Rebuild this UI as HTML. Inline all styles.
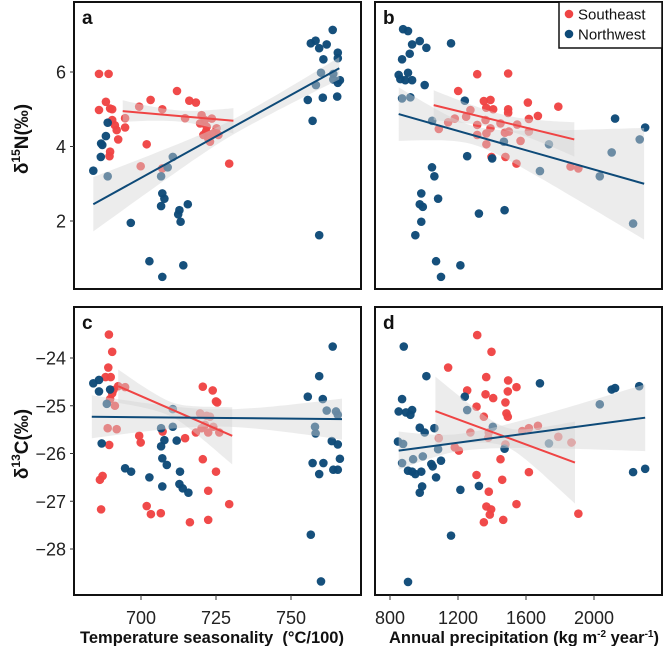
<!DOCTYPE html>
<html><head><meta charset="utf-8"><style>
html,body{margin:0;padding:0;background:#fff;}
svg{display:block;font-family:"Liberation Sans",Arial,sans-serif;}
</style></head><body>
<svg id="fig" width="664" height="646" viewBox="0 0 664 646" xmlns="http://www.w3.org/2000/svg"></svg>
<script>
// ---- data ----
const tempTicks = [700, 725, 750];
const precipTicks = [800, 1200, 1600, 2000];
const nTicks = [2, 4, 6];
const cTicks = [-28, -27, -26, -25, -24];

const aRedX = [686,689.2,686,688.3,689.7,690.4,690.4,691.3,691.9,692.4,689.7,689.5,694.7,694.7,699.4,703.2,701.9,699.9,707.1,707.1,712,714.7,716.1,718.3,720.2,721.3,721.9,723.6,724.1,720.8,722.4,725.2,725.8,723,719.7,721.7,729.4];
const aRedY = [5.95,5.95,4.98,5.2,5.02,5.0,4.71,4.57,4.44,4.19,3.86,3.74,4.76,4.51,5.07,5.25,4.06,3.47,5.0,3.41,5.49,4.76,5.23,5.18,4.84,4.71,4.53,4.75,4.35,4.31,4.22,4.49,4.31,4.13,4.62,4.40,3.54];
const aBlueX = [684.1,686.7,687.1,686.6,688.3,688.9,688.9,696.6,702.8,707.1,714.1,706.7,708.9,710.6,707.1,707.8,706.7,712.8,712.4,713.2,715.6,763.9,756.6,758.2,759.4,761.9,765.6,765.6,760.8,760,764.1,764.1,766.3,765.6,758.3,755.6,760.6,765.4,757.2,759.4];
const aBlueY = [3.35,4.08,4.04,3.72,4.28,4.64,3.20,1.95,0.92,0.50,0.81,3.20,3.44,3.72,2.74,2.60,2.40,2.29,2.18,1.98,2.45,7.13,6.77,6.84,6.64,6.74,6.52,6.37,6.34,5.98,5.95,5.80,5.78,5.71,5.65,5.25,5.31,5.34,4.69,1.62];

const bRedX = [1313,1495,1201,1352,1391,1366,1407,1495,1611,1790,1670,1617,1495,1273,1248,1181,1142,1087,1313,1362,1391,1367,1313,1450,1476,1499,1548,1617,1568,1367,1397,1479,1544,1862,1908];
const bRedY = [5.94,5.96,5.49,5.22,5.25,5.04,5.0,5.0,5.18,5.07,4.82,4.74,4.90,4.98,4.80,4.75,4.65,4.47,4.58,4.71,4.49,4.35,4.31,4.62,4.37,4.40,4.59,4.40,4.15,4.06,3.72,3.72,3.54,3.46,3.41];
const bBlueX = [877,906,930,975,1014,1159,916,871,851,861,906,890,930,1004,871,920,1240,1048,1254,1047,1061,984,975,993,984,949,1083,1323,1474,1071,1100,1214,1470,1735,1682,2034,2104,2124,2269,2301,2230,1401];
const bBlueY = [7.15,7.10,6.74,6.83,6.65,6.77,6.49,6.34,5.92,5.81,5.98,5.78,5.78,5.65,5.29,5.32,5.23,4.69,3.74,3.44,3.20,2.74,2.45,2.38,1.98,1.62,2.60,2.20,2.29,0.92,0.50,0.81,4.13,4.06,3.34,3.20,3.84,4.75,4.19,4.51,1.93,3.68];

const cRedX = [689.3,690.4,689.1,688.2,689.9,690.8,690.4,689.7,691.3,692.4,694.7,691.9,688.9,689.4,687.2,686.3,686.7,699.4,699.9,701.9,703.3,706.6,707.2,714.7,720.6,723.9,725,725.4,719.7,721.9,723,721.3,720.2,718.3,724.1,722.4,726.1,720.6,725,722.4,722.4,716.3,729.4];
const cRedY = [-23.51,-23.87,-24.20,-24.40,-24.40,-24.67,-24.74,-24.86,-25.0,-24.59,-24.61,-25.49,-25.47,-25.82,-26.47,-26.55,-27.17,-25.63,-25.77,-27.10,-27.27,-27.25,-25.54,-25.68,-24.60,-24.68,-24.91,-24.93,-25.16,-25.21,-25.23,-25.40,-25.47,-25.56,-25.44,-25.56,-25.56,-26.12,-26.38,-26.78,-27.39,-27.44,-27.06];
const cBlueX = [684.1,686,686,689.7,688.6,686.9,694.7,696.7,702.8,707.1,706.7,710.6,710.6,707.8,711.9,706.7,707.1,708.6,713,712.8,713.9,715.8,763.9,759.4,755.6,760.6,761.9,765,765.6,758,758.2,763.6,765.6,766.3,757.2,760.8,759.4,764.1,765.6,756.6,760];
const cBlueY = [-24.53,-24.46,-24.70,-24.66,-24.96,-25.79,-26.31,-26.38,-26.50,-26.69,-25.47,-25.07,-25.44,-25.72,-25.73,-25.85,-26.10,-26.24,-26.38,-26.64,-26.73,-26.82,-23.76,-24.38,-24.81,-24.86,-25.10,-25.12,-25.19,-25.44,-25.58,-25.74,-25.81,-26.11,-26.20,-26.20,-26.43,-26.34,-26.34,-27.70,-28.68];

const dRedX = [1313,1397,1142,1366,1495,1544,1493,1254,1362,1407,1309,1479,1485,1493,1352,1381,1273,1378,1578,1617,1670,1790,1867,1087,1181,1205,1479,1450,1460,1617,1309,1381,1367,1395,1387,1352,1466,1544,1908];
const dRedY = [-23.52,-23.87,-24.20,-24.40,-24.47,-24.61,-24.70,-24.68,-24.76,-24.84,-25.02,-24.93,-25.16,-25.23,-25.23,-25.56,-25.56,-25.67,-25.53,-25.47,-25.42,-25.65,-25.77,-25.68,-25.87,-25.94,-25.81,-26.12,-26.55,-26.39,-26.45,-26.80,-27.11,-27.17,-27.28,-27.44,-27.39,-27.06,-27.26];
const dBlueX = [881,1014,871,851,894,930,920,847,877,871,906,930,949,984,936,993,975,1004,1061,1083,1043,1051,1100,1071,989,975,1214,1323,1159,906,1240,1254,1405,1474,1682,1735,2034,2104,2124,2266,2230,2301];
const dBlueY = [-23.76,-24.38,-24.86,-25.12,-25.14,-25.09,-25.19,-25.75,-25.80,-26.20,-26.36,-26.38,-26.43,-26.38,-26.12,-26.06,-25.46,-25.56,-25.47,-25.91,-26.22,-26.27,-26.15,-26.50,-26.69,-26.82,-26.76,-26.68,-27.72,-28.69,-24.81,-25.09,-25.44,-25.90,-24.53,-25.79,-24.97,-24.66,-24.63,-24.59,-26.39,-26.32];

// fitted lines: [x0, y0, x1, y1]
const aRedFit = [693.9, 4.95, 730.8, 4.69];
const aBlueFit = [684.1, 2.45, 766.1, 6.10];
const bRedFit = [1057, 5.11, 1884, 4.19];
const bBlueFit = [851, 4.87, 2295, 3.0];
const cRedFit = [692.4, -24.59, 730.4, -25.63];
const cBlueFit = [683.6, -25.23, 767, -25.28];
const dRedFit = [1067, -25.11, 1888, -26.19];
const dBlueFit = [851, -25.94, 2301, -25.25];
// CI half-widths: [left, min, right, position of min]
const aRedCI = [0.29, 0.15, 0.34, 0.5];
const aBlueCI = [0.73, 0.2, 0.3, 0.6];
const bRedCI = [0.4, 0.2, 0.46, 0.5];
const bBlueCI = [0.72, 0.25, 1.5, 0.3];
const cRedCI = [0.35, 0.15, 0.6, 0.45];
const cBlueCI = [0.45, 0.18, 0.43, 0.5];
const dRedCI = [0.72, 0.2, 0.86, 0.5];
const dBlueCI = [0.4, 0.18, 0.7, 0.25];

// ---- drawing ----
const NS = "http://www.w3.org/2000/svg";
const svg = document.getElementById('fig');
const RED = "#ef4444", BLUE = "#0e4a78";
function mk(tag, attrs, parent) {
  const e = document.createElementNS(NS, tag);
  for (const k in attrs) e.setAttribute(k, attrs[k]);
  (parent || svg).appendChild(e);
  return e;
}
const linT = (d0, d1, p0, p1) => v => p0 + (v - d0) * (p1 - p0) / (d1 - d0);
const xTemp = linT(700, 750, 141, 291);
const xPrec = linT(800, 2000, 390, 594);
const yN = linT(6, 2, 72, 221);
const yC = linT(-24, -28, 358, 549);

function band(g, fit, ci, sx, sy, color) {
  const [x0, y0, x1, y1] = fit, [L, M, R, t0] = ci;
  const top = [], bot = [];
  for (let i = 0; i <= 40; i++) {
    const t = i / 40, x = x0 + (x1 - x0) * t, y = y0 + (y1 - y0) * t;
    let hw;
    if (t < t0) { const u = (t0 - t) / t0; hw = Math.sqrt(M * M + (L * L - M * M) * u * u); }
    else { const u = (t - t0) / (1 - t0); hw = Math.sqrt(M * M + (R * R - M * M) * u * u); }
    top.push(sx(x).toFixed(1) + "," + sy(y + hw).toFixed(1));
    bot.unshift(sx(x).toFixed(1) + "," + sy(y - hw).toFixed(1));
  }
  const p = mk('polygon', { points: top.concat(bot).join(' '), fill: '#d4d4d4', 'fill-opacity': 0.45 }, g);
  
  
}
function fitLine(g, fit, sx, sy, col, name) {
  const l = mk('line', { x1: sx(fit[0]), y1: sy(fit[1]), x2: sx(fit[2]), y2: sy(fit[3]), stroke: col, 'stroke-width': 2 }, g);
  
  
}
function points(g, xs, ys, sx, sy, col, name) {
  for (let i = 0; i < xs.length; i++) {
    const c = mk('circle', { cx: sx(xs[i]), cy: sy(ys[i]), r: 4.3, fill: col, 'fill-opacity': 0.97 }, g);
    
    
  }
}
function panel(id, box, sx, sy, red, blue, label) {
  const g = mk('g', {});
  
  
  points(g, red.x, red.y, sx, sy, RED, 'southeast-point');
  points(g, blue.x, blue.y, sx, sy, BLUE, 'northwest-point');
  band(g, red.fit, red.ci, sx, sy, 'southeast');
  band(g, blue.fit, blue.ci, sx, sy, 'northwest');
  fitLine(g, red.fit, sx, sy, RED, 'southeast-fit-line');
  fitLine(g, blue.fit, sx, sy, BLUE, 'northwest-fit-line');
  const r = mk('rect', { x: box[0], y: box[1], width: box[2] - box[0], height: box[3] - box[1], fill: 'none', stroke: '#111', 'stroke-width': 2 }, g);
  
  
  const t = mk('text', { x: box[0] + 8, y: box[1] + 22, 'font-size': 19, 'font-weight': 'bold', fill: '#111' }, g);
  t.textContent = label;
  
  
  return g;
}
const A = [74, 2, 361, 289], B = [375, 2, 662, 289], C = [74, 307, 361, 595], D = [375, 307, 662, 595];
panel('a', A, xTemp, yN, { x: aRedX, y: aRedY, fit: aRedFit, ci: aRedCI }, { x: aBlueX, y: aBlueY, fit: aBlueFit, ci: aBlueCI }, 'a');
panel('b', B, xPrec, yN, { x: bRedX, y: bRedY, fit: bRedFit, ci: bRedCI }, { x: bBlueX, y: bBlueY, fit: bBlueFit, ci: bBlueCI }, 'b');
panel('c', C, xTemp, yC, { x: cRedX, y: cRedY, fit: cRedFit, ci: cRedCI }, { x: cBlueX, y: cBlueY, fit: cBlueFit, ci: cBlueCI }, 'c');
panel('d', D, xPrec, yC, { x: dRedX, y: dRedY, fit: dRedFit, ci: dRedCI }, { x: dBlueX, y: dBlueY, fit: dBlueFit, ci: dBlueCI }, 'd');

// axes ticks
function yTicks(vals, sy, x0, fmt) {
  vals.forEach(v => {
    mk('line', { x1: x0 - 4, x2: x0, y1: sy(v), y2: sy(v), stroke: '#333', 'stroke-width': 1 });
    const t = mk('text', { x: x0 - 8, y: sy(v) + 6.5, 'font-size': 18, 'text-anchor': 'end', fill: '#222' });
    t.textContent = fmt(v);
    
    
  });
}
yTicks(nTicks, yN, 74, v => String(v));
yTicks(cTicks, yC, 74, v => (v < 0 ? "\u2212" + Math.abs(v) : String(v)));
function xTicks(vals, sx, y0) {
  vals.forEach(v => {
    mk('line', { x1: sx(v), x2: sx(v), y1: y0, y2: y0 + 5, stroke: '#333', 'stroke-width': 1 });
    const t = mk('text', { x: sx(v), y: y0 + 29, 'font-size': 18, 'text-anchor': 'middle', fill: '#222' });
    t.textContent = String(v);
    
    
  });
}
xTicks(tempTicks, xTemp, 595);
xTicks(precipTicks, xPrec, 595);
</script>
<svg style="position:absolute;left:0;top:0" width="664" height="646" viewBox="0 0 664 646" xmlns="http://www.w3.org/2000/svg">
  <text x="212" y="643" font-size="16.5" font-weight="bold" text-anchor="middle" fill="#111" font-family="Liberation Sans, sans-serif" xml:space="preserve">Temperature seasonality  (°C/100)</text>
  <text x="524" y="643" font-size="16.5" font-weight="bold" text-anchor="middle" fill="#111" font-family="Liberation Sans, sans-serif">Annual precipitation (kg m<tspan font-size="10" dy="-6">-2</tspan><tspan dy="6"> year</tspan><tspan font-size="10" dy="-6">-1</tspan><tspan dy="6">)</tspan></text>
  <text transform="translate(28,139) rotate(-90)" font-size="19" font-weight="bold" text-anchor="middle" fill="#111" font-family="Liberation Sans, sans-serif">δ<tspan font-size="12" dy="-8">15</tspan><tspan dy="8">N(‰)</tspan></text>
  <text transform="translate(28,444) rotate(-90)" font-size="19" font-weight="bold" text-anchor="middle" fill="#111" font-family="Liberation Sans, sans-serif">δ<tspan font-size="12" dy="-8">13</tspan><tspan dy="8">C(‰)</tspan></text>
  <g>
    <rect x="559" y="2" width="103" height="46" fill="#fff" stroke="#111" stroke-width="1.5"/>
    <circle cx="569" cy="14" r="4.3" fill="#ef4444"/>
    <text x="578" y="19.5" font-size="15" fill="#111" font-family="Liberation Sans, sans-serif">Southeast</text>
    <circle cx="569" cy="34" r="4.3" fill="#0e4a78"/>
    <text x="578" y="39.5" font-size="15" fill="#111" font-family="Liberation Sans, sans-serif">Northwest</text>
  </g>
</svg>
</body></html>
